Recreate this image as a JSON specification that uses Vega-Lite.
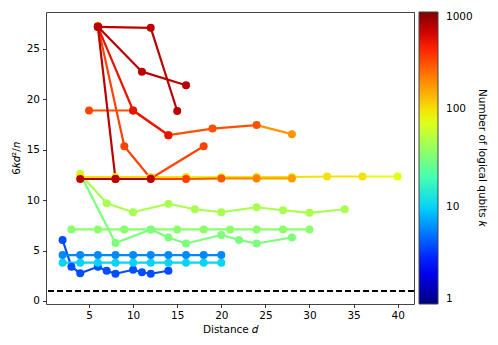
{
  "$schema": "https://vega.github.io/schema/vega-lite/v6.json",
  "width": 368,
  "height": 292,
  "autosize": {"type": "none"},
  "padding": {"left": 46, "top": 12, "right": 84, "bottom": 41},
  "config": {
    "font": "DejaVu Sans",
    "view": {"stroke": "#444", "strokeWidth": 1},
    "axis": {
      "domain": false, "grid": false, "tickColor": "#000", "tickSize": 3.5, "tickWidth": 0.8,
      "labelFontSize": 10.5, "labelColor": "#000", "titleFontSize": 10.5, "titleFontWeight": "normal",
      "titleColor": "#000", "labelPadding": 3
    }
  },
  "data": {"values": [
    {"s":"db","d":2,"v":6.05,"k":4},{"s":"db","d":3,"v":3.4,"k":4},{"s":"db","d":4,"v":2.75,"k":4},{"s":"db","d":6,"v":3.4,"k":4},{"s":"db","d":7,"v":3.0,"k":4},{"s":"db","d":8,"v":2.7,"k":4},{"s":"db","d":10,"v":3.1,"k":4},{"s":"db","d":11,"v":2.85,"k":4},{"s":"db","d":12,"v":2.7,"k":4},{"s":"db","d":14,"v":3.0,"k":4},
    {"s":"cy","d":2,"v":3.8,"k":10},{"s":"cy","d":4,"v":3.8,"k":10},{"s":"cy","d":6,"v":3.8,"k":10},{"s":"cy","d":8,"v":3.8,"k":10},{"s":"cy","d":10,"v":3.8,"k":10},{"s":"cy","d":12,"v":3.8,"k":10},{"s":"cy","d":14,"v":3.8,"k":10},{"s":"cy","d":16,"v":3.8,"k":10},{"s":"cy","d":18,"v":3.8,"k":10},{"s":"cy","d":20,"v":3.8,"k":10},
    {"s":"bl","d":2,"v":4.55,"k":6},{"s":"bl","d":4,"v":4.55,"k":6},{"s":"bl","d":6,"v":4.55,"k":6},{"s":"bl","d":8,"v":4.55,"k":6},{"s":"bl","d":10,"v":4.55,"k":6},{"s":"bl","d":12,"v":4.55,"k":6},{"s":"bl","d":14,"v":4.55,"k":6},{"s":"bl","d":16,"v":4.55,"k":6},{"s":"bl","d":18,"v":4.55,"k":6},{"s":"bl","d":20,"v":4.55,"k":6},
    {"s":"lg","d":3,"v":7.1,"k":36},{"s":"lg","d":6,"v":7.1,"k":36},{"s":"lg","d":9,"v":7.1,"k":36},{"s":"lg","d":12,"v":7.1,"k":36},{"s":"lg","d":15,"v":7.1,"k":36},{"s":"lg","d":18,"v":7.1,"k":36},{"s":"lg","d":21,"v":7.1,"k":36},{"s":"lg","d":24,"v":7.1,"k":36},{"s":"lg","d":27,"v":7.1,"k":36},{"s":"lg","d":30,"v":7.1,"k":36},
    {"s":"gd","d":4,"v":12.6,"k":60},{"s":"gd","d":8,"v":5.75,"k":32},{"s":"gd","d":12,"v":7.1,"k":32},{"s":"gd","d":14,"v":6.3,"k":32},{"s":"gd","d":16,"v":5.7,"k":32},{"s":"gd","d":20,"v":6.55,"k":32},{"s":"gd","d":22,"v":6.05,"k":32},{"s":"gd","d":24,"v":5.7,"k":32},{"s":"gd","d":28,"v":6.3,"k":32},
    {"s":"gu","d":4,"v":12.6,"k":60},{"s":"gu","d":7,"v":9.7,"k":46},{"s":"gu","d":10,"v":8.8,"k":46},{"s":"gu","d":14,"v":9.65,"k":46},{"s":"gu","d":17,"v":9.1,"k":46},{"s":"gu","d":20,"v":8.8,"k":46},{"s":"gu","d":24,"v":9.3,"k":46},{"s":"gu","d":27,"v":9.0,"k":46},{"s":"gu","d":30,"v":8.75,"k":46},{"s":"gu","d":34,"v":9.1,"k":46},
    {"s":"ye","d":4,"v":12.3,"k":100},{"s":"ye","d":8,"v":12.3,"k":100},{"s":"ye","d":12,"v":12.3,"k":100},{"s":"ye","d":16,"v":12.3,"k":100},{"s":"ye","d":20,"v":12.3,"k":85},{"s":"ye","d":24,"v":12.3,"k":100},{"s":"ye","d":28,"v":12.3,"k":100},{"s":"ye","d":32,"v":12.35,"k":100},{"s":"ye","d":36,"v":12.35,"k":100},{"s":"ye","d":40,"v":12.35,"k":75},
    {"s":"f","d":6,"v":27.3,"k":150},{"s":"f","d":9,"v":15.35,"k":330},{"s":"f","d":12,"v":12.15,"k":330},{"s":"f","d":18,"v":15.35,"k":330},
    {"s":"e","d":5,"v":18.9,"k":330},{"s":"e","d":10,"v":18.9,"k":300},{"s":"e","d":14,"v":16.45,"k":300},{"s":"e","d":19,"v":17.1,"k":300},{"s":"e","d":24,"v":17.45,"k":300},{"s":"e","d":28,"v":16.55,"k":180},
    {"s":"d4","d":6,"v":27.2,"k":500},{"s":"d4","d":10,"v":18.9,"k":500},{"s":"d4","d":14,"v":16.45,"k":500},
    {"s":"g","d":4,"v":12.1,"k":700},{"s":"g","d":8,"v":12.1,"k":700},{"s":"g","d":12,"v":12.1,"k":700},{"s":"g","d":16,"v":12.1,"k":340},{"s":"g","d":20,"v":12.15,"k":290},{"s":"g","d":24,"v":12.15,"k":210},{"s":"g","d":28,"v":12.15,"k":170},
    {"s":"c","d":6,"v":27.2,"k":700},{"s":"c","d":8,"v":12.1,"k":700},
    {"s":"b","d":6,"v":27.2,"k":700},{"s":"b","d":11,"v":22.75,"k":700},{"s":"b","d":16,"v":21.4,"k":700},
    {"s":"a","d":6,"v":27.2,"k":700},{"s":"a","d":12,"v":27.1,"k":700},{"s":"a","d":15,"v":18.85,"k":700}
  ]},
  "layer": [
    {
      "mark": {"type": "rule", "strokeDash": [6, 3], "strokeWidth": 1.5, "color": "#000"},
      "encoding": {"y": {"datum": 1, "type": "quantitative"}}
    },
    {
      "transform": [
        {"window": [{"op": "lag", "field": "d", "as": "d0"}, {"op": "lag", "field": "v", "as": "v0"}], "groupby": ["s"], "sort": [{"field": "d"}]},
        {"filter": "datum.d0 != null"}
      ],
      "mark": {"type": "rule", "strokeWidth": 2.2, "strokeCap": "round"},
      "encoding": {
        "x": {"field": "d0", "type": "quantitative", "scale": {"domain": [0.12, 41.85], "nice": false, "zero": false}},
        "x2": {"field": "d"},
        "y": {"field": "v0", "type": "quantitative", "scale": {"domain": [-0.3, 28.67], "nice": false, "zero": false}},
        "y2": {"field": "v"},
        "stroke": {"field": "k", "type": "quantitative",
          "scale": {"type": "log", "domain": [1, 1.54, 2.3714, 3.6517, 5.6234, 8.6596, 13.335, 20.535, 31.623, 48.697, 74.989, 115.48, 177.83, 273.84, 421.70, 649.38, 1000],
            "range": ["#000080", "#0000c8", "#0000ff", "#0040ff", "#0080ff", "#00bfff", "#15ffe2", "#48ffaf", "#7bff7b", "#afff48", "#e2ff15", "#ffd200", "#ff9700", "#ff5c00", "#ff2100", "#c70000", "#800000"],
            "interpolate": "rgb"},
          "legend": null}
      }
    },
    {
      "mark": {"type": "circle", "size": 64, "opacity": 1},
      "encoding": {
        "x": {"field": "d", "type": "quantitative", "scale": {"domain": [0.12, 41.85], "nice": false, "zero": false},
          "axis": {"values": [5, 10, 15, 20, 25, 30, 35, 40], "title": "Distance 𝑑", "titlePadding": 3}},
        "y": {"field": "v", "type": "quantitative", "scale": {"domain": [-0.3, 28.67], "nice": false, "zero": false},
          "axis": {"values": [0, 5, 10, 15, 20, 25], "title": "6𝑘𝑑²/𝑛", "titlePadding": 5}},
        "fill": {"field": "k", "type": "quantitative",
          "scale": {"type": "log", "domain": [1, 1.5399, 2.3714, 3.6517, 5.6234, 8.6596, 13.335, 20.535, 31.623, 48.697, 74.989, 115.48, 177.83, 273.84, 421.70, 649.38, 1000],
            "range": ["#000080", "#0000c8", "#0000ff", "#0040ff", "#0080ff", "#00bfff", "#15ffe2", "#48ffaf", "#7bff7b", "#afff48", "#e2ff15", "#ffd200", "#ff9700", "#ff5c00", "#ff2100", "#c70000", "#800000"],
            "interpolate": "rgb"},
          "legend": {"type": "gradient", "direction": "vertical", "orient": "right", "offset": 5, "padding": 0, "gradientLength": 292, "gradientThickness": 19,
            "gradientStrokeColor": "#444", "gradientStrokeWidth": 1, "labelFontSize": 10.5, "labelOffset": 8,
            "labelColor": "#000", "labelOverlap": false, "labelBaseline": "middle", "values": [1, 10, 100, 1000], "format": "d",
            "title": "Number of logical qubits 𝑘", "titleOrient": "right", "titleFontSize": 10.5,
            "titleFontWeight": "normal", "titleColor": "#000", "titleAnchor": "middle", "titleAlign": "center",
            "titleBaseline": "bottom", "titlePadding": 4}}
      }
    }
  ]
}
